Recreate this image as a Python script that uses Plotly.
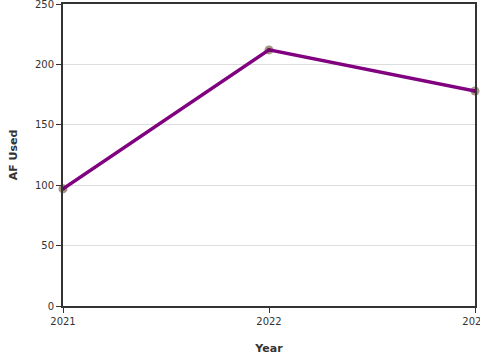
import plotly.graph_objects as go

years = [2021, 2022, 2023]
af_used = [97, 212, 178]
y_ticks = [0, 50, 100, 150, 200, 250]

fig = go.Figure()
fig.add_trace(go.Scatter(
    x=years, y=af_used, mode="markers",
    marker=dict(size=9, color="rgba(150,130,110,0.85)",
                line=dict(width=0)),
    showlegend=False, cliponaxis=False,
))
fig.add_trace(go.Scatter(
    x=years, y=af_used, mode="lines+markers",
    line=dict(color="#800080", width=3.5),
    marker=dict(size=4, color="#6a0a5a"),
    showlegend=False, cliponaxis=False,
))

axis_common = dict(
    showline=True, linecolor="#333", linewidth=2, mirror=True,
    ticks="outside", ticklen=5, tickcolor="#333", tickwidth=1,
    tickfont=dict(family="DejaVu Sans", size=10, color="#333"),
    zeroline=False, automargin=False, ticklabeloverflow="allow",
)
fig.update_xaxes(
    range=[2021, 2023], tickvals=years, ticktext=[str(y) for y in years],
    showgrid=False, title=dict(text="<b>Year</b>", font=dict(family="DejaVu Sans", size=11, color="#333"), standoff=18),
    **axis_common,
)
fig.update_yaxes(
    range=[0, 250], tickvals=y_ticks, showgrid=True, gridcolor="#ddd", gridwidth=1,
    title=dict(text="<b>AF Used</b>", font=dict(family="DejaVu Sans", size=11, color="#333"), standoff=15),
    **axis_common,
)
fig.update_layout(
    width=480, height=360,
    margin=dict(l=63, r=5, t=4, b=54),
    paper_bgcolor="white", plot_bgcolor="white",
)
fig.write_html("out.html", config={"displayModeBar": False},
               post_script="document.body.style.margin='0';document.body.style.overflow='hidden';")
